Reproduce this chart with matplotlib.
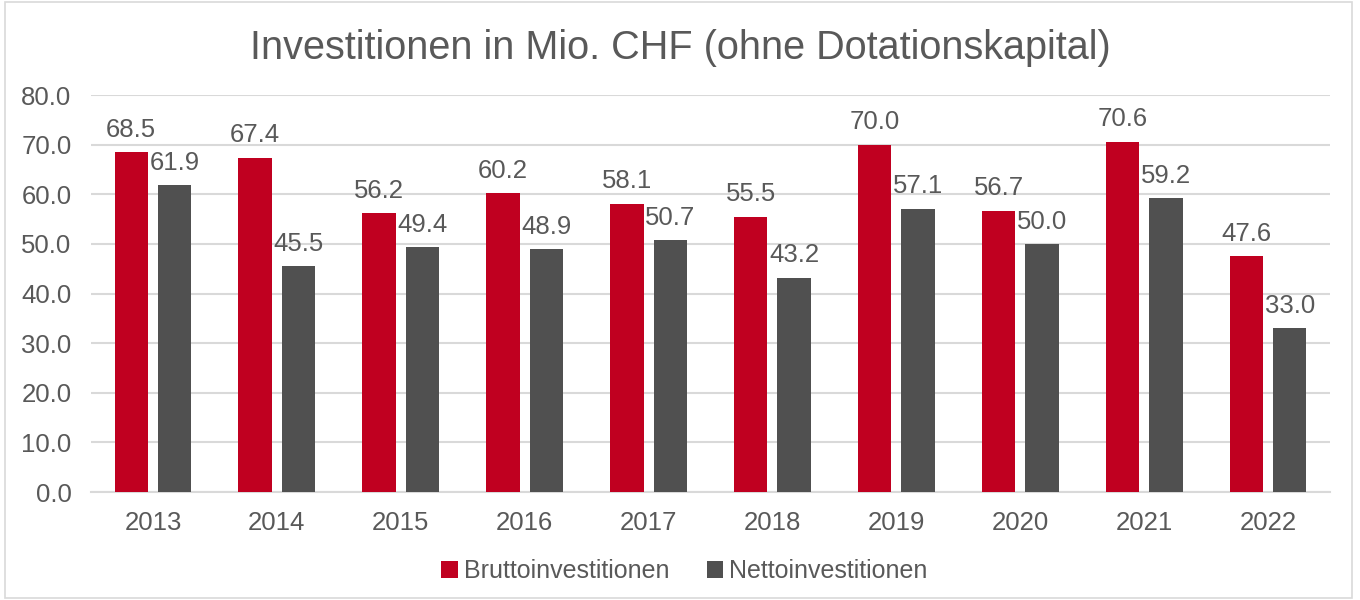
import numpy as np
import matplotlib.pyplot as plt
from matplotlib.patches import FancyBboxPatch

plt.rcParams['font.family'] = ['Liberation Sans', 'DejaVu Sans']

# Daten
jahre = ['2013', '2014', '2015', '2016', '2017', '2018', '2019', '2020', '2021', '2022']
brutto = [68.5, 67.4, 56.2, 60.2, 58.1, 55.5, 70.0, 56.7, 70.6, 47.6]
netto = [61.9, 45.5, 49.4, 48.9, 50.7, 43.2, 57.1, 50.0, 59.2, 33.0]

rot = '#C00020'
grau = '#505050'
text_farbe = '#595959'

fig = plt.figure(figsize=(13.6, 6), dpi=100)
ax = fig.add_axes([91 / 1360, 108 / 600, (1330 - 91) / 1360, (492 - 95) / 600])

# Rahmen um die Grafik
fig.patches.append(FancyBboxPatch((5 / 1360, 2 / 600), 1347 / 1360, 596 / 600,
                                  boxstyle='square,pad=0', transform=fig.transFigure,
                                  fill=False, edgecolor='#D9D9D9', linewidth=1.2))

x = np.arange(len(jahre))
b = 0.27
off = 0.175
bars1 = ax.bar(x - off, brutto, b, color=rot, label='Bruttoinvestitionen', zorder=3)
bars2 = ax.bar(x + off, netto, b, color=grau, label='Nettoinvestitionen', zorder=3)

# Datenbeschriftungen
for bars, werte in [(bars1, brutto), (bars2, netto)]:
    for rect, v in zip(bars, werte):
        ax.annotate(f'{v:.1f}', (rect.get_x() + rect.get_width() / 2, v),
                    xytext=(0, 16), textcoords='offset points',
                    ha='center', va='center', fontsize=18.5, color=text_farbe)

ax.set_xlim(-0.5, len(jahre) - 0.5)
ax.set_ylim(0, 80)
ax.set_yticks(np.arange(0, 81, 10))
ax.set_yticklabels([f'{v:.1f}' for v in np.arange(0, 81, 10)])
ax.set_xticks(x)
ax.set_xticklabels(jahre)
ax.tick_params(axis='both', length=0, labelsize=18.5, labelcolor=text_farbe)
ax.tick_params(axis='y', pad=14)
ax.tick_params(axis='x', pad=14)
ax.grid(axis='y', color='#D9D9D9', linewidth=1.5, zorder=0)
for s in ['top', 'right', 'left']:
    ax.spines[s].set_visible(False)
ax.spines['bottom'].set_color('#D9D9D9')
ax.spines['bottom'].set_linewidth(1.5)

fig.suptitle('Investitionen in Mio. CHF (ohne Dotationskapital)', y=1 - 48 / 600,
             va='center', fontsize=28.5, color=text_farbe)

ax.legend(loc='center', bbox_to_anchor=(0.479, -0.2), ncol=2, frameon=False,
          fontsize=18, labelcolor=text_farbe, handlelength=0.65, handleheight=0.65,
          handletextpad=0.25, columnspacing=1.5)

fig.savefig('out.png', dpi=100)
